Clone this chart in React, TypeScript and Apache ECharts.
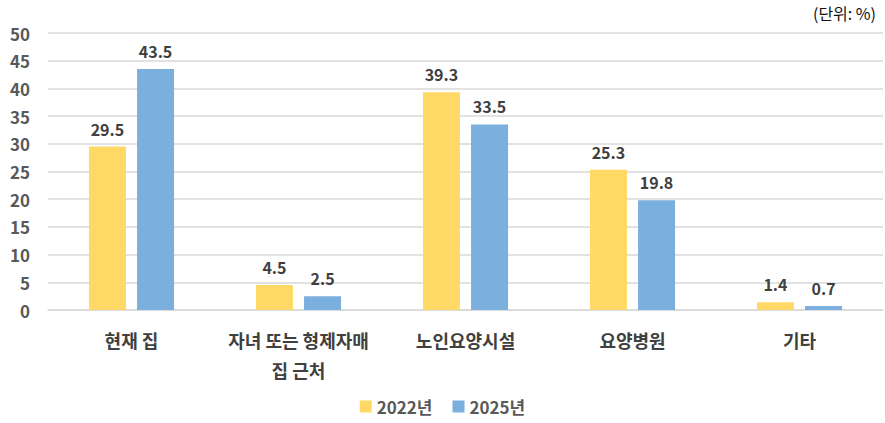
import React, { useEffect, useRef } from "react";
import * as echarts from "echarts";

const categories = ["현재 집", "자녀 또는 형제자매\n집 근처", "노인요양시설", "요양병원", "기타"];
const series2022 = [29.5, 4.5, 39.3, 25.3, 1.4];
const series2025 = [43.5, 2.5, 33.5, 19.8, 0.7];
const seriesNames = ["2022년", "2025년"];
const unitText = "(단위: %)";

const FONT = "'Noto Sans CJK KR', 'Noto Sans', sans-serif";

export default function App() {
  const ref = useRef<HTMLDivElement>(null);
  useEffect(() => {
    document.body.style.margin = "0";
    const chart = echarts.init(ref.current!, null, { renderer: "svg" });
    const labelStyle = {
      show: true,
      position: "top" as const,
      distance: 10,
      fontFamily: FONT,
      fontSize: 16,
      fontWeight: "bold" as const,
      color: "#404040",
    };
    chart.setOption({
      animation: false,
      textStyle: { fontFamily: FONT },
      graphic: [
        {
          type: "text",
          right: 9,
          top: 5,
          style: { text: unitText, fontFamily: FONT, fontSize: 16, fill: "#111" },
        },
      ],
      legend: {
        bottom: 3,
        left: "center",
        itemWidth: 12,
        itemHeight: 12,
        itemGap: 20,
        icon: "rect",
        textStyle: { fontFamily: FONT, fontSize: 17, fontWeight: "bold", color: "#595959" },
        data: seriesNames,
      },
      grid: { left: 48, right: 2, top: 33, bottom: 113, containLabel: false },
      xAxis: {
        type: "category",
        data: categories,
        axisTick: { show: false },
        axisLine: { lineStyle: { color: "#d9d9d9", width: 1.5 } },
        axisLabel: {
          interval: 0,
          margin: 15,
          fontFamily: FONT,
          fontSize: 18,
          fontWeight: "bold",
          color: "#404040",
          lineHeight: 30,
        },
      },
      yAxis: {
        type: "value",
        min: 0,
        max: 50,
        interval: 5,
        axisLine: { show: false },
        axisTick: { show: false },
        splitLine: { lineStyle: { color: "#d9d9d9", width: 1.5 } },
        axisLabel: {
          margin: 18,
          fontFamily: FONT,
          fontSize: 17,
          fontWeight: "bold",
          color: "#595959",
        },
      },
      series: [
        {
          name: seriesNames[0],
          type: "bar",
          data: series2022,
          barWidth: 37,
          barGap: "30%",
          itemStyle: { color: "#FFD965" },
          label: labelStyle,
        },
        {
          name: seriesNames[1],
          type: "bar",
          data: series2025,
          barWidth: 37,
          itemStyle: { color: "#7BAFDE" },
          label: labelStyle,
        },
      ],
    });
    return () => chart.dispose();
  }, []);
  return <div ref={ref} style={{ width: 885, height: 423 }} />;
}
